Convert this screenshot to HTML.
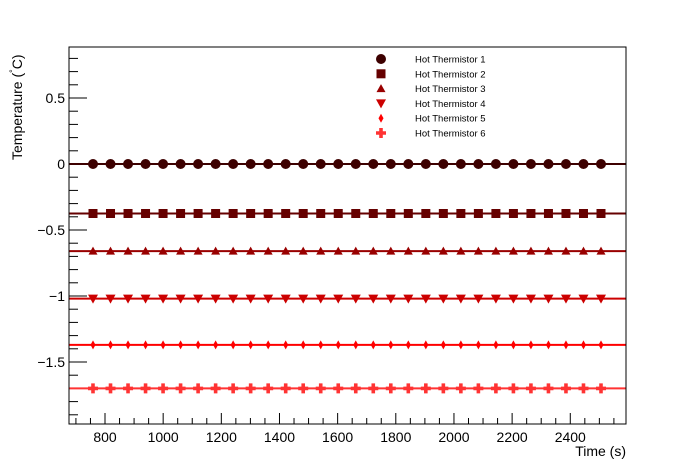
<!DOCTYPE html>
<html><head><meta charset="utf-8"><style>
body{margin:0;background:#fff;}
svg{display:block;font-family:"Liberation Sans",sans-serif;}
</style></head><body>
<svg id="s" width="696" height="472" xmlns="http://www.w3.org/2000/svg">
<rect width="696" height="472" fill="#fff"/>
<g id="g"></g>
<rect x="69" y="47" width="557" height="377" fill="none" stroke="#000" stroke-width="1"/>
</svg>
<script>
const g=document.getElementById('g');let h='';
const X=t=>105+(t-800)*0.2908, Y=v=>164-v*132;
for(let t=700;t<=2550;t+=50){const x=X(t);if(x<69||x>626)continue;const L=t%200==0?11:6;h+=`<line x1="${x}" y1="424" x2="${x}" y2="${424-L}" stroke="#000"/>`;
if(t%200==0)h+=`<text x="${x}" y="442" font-size="14" text-anchor="middle">${t}</text>`;}
for(let i=-19;i<=8;i++){const v=i/10;const y=Y(v);if(y<47||y>424)continue;const maj=i%5==0;h+=`<line x1="69" y1="${y}" x2="${69+(maj?18:9)}" y2="${y}" stroke="#000"/>`;
if(maj)h+=`<text x="65" y="${y+5}" font-size="14" text-anchor="end">${v==0?'0':(v<0?'\u2212'+(-v):v)}</text>`;}
h+=`<text x="626" y="456" font-size="14" text-anchor="end">Time (s)</text>`;
h+=`<text transform="translate(22,160) rotate(-90)" font-size="14">Temperature (<tspan font-size="9" dy="-6">°</tspan><tspan dy="6">C)</tspan></text>`;
const cols=['#3d0000','#660000','#990000','#cc0000','#ff0000','#ff3333'];
const lv=[0,-0.375,-0.66,-1.02,-1.37,-1.70];
function mk(k,x,y,c){
 if(k==0)return `<circle cx="${x}" cy="${y}" r="5" fill="${c}"/>`;
 if(k==1)return `<rect x="${x-4.5}" y="${y-4.5}" width="9" height="9" fill="${c}"/>`;
 if(k==2)return `<polygon points="${x},${y-4.5} ${x+4.5},${y+3.5} ${x-4.5},${y+3.5}" fill="${c}"/>`;
 if(k==3)return `<polygon points="${x-5},${y-4} ${x+5},${y-4} ${x},${y+5}" fill="${c}"/>`;
 if(k==4)return `<polygon points="${x},${y-4.5} ${x+2.5},${y} ${x},${y+4.5} ${x-2.5},${y}" fill="${c}"/>`;
 return `<path d="M${x-1.8} ${y-5}h3.6v3.2h3.2v3.6h-3.2v3.2h-3.6v-3.2h-3.2v-3.6h3.2z" fill="${c}"/>`;
}
for(let k=0;k<6;k++){const y=Y(lv[k]);
 h+=`<line x1="69" y1="${y}" x2="626" y2="${y}" stroke="${cols[k]}" stroke-width="2"/>`;
 for(let i=0;i<30;i++){const x=93+i*(508/29);h+=mk(k,x,y,cols[k]);}
 const ly=59+k*14.8;h+=mk(k,381,ly,cols[k]);
 h+=`<text x="415" y="${ly+3.5}" font-size="9.5">Hot Thermistor ${k+1}</text>`;}
g.innerHTML=h;
</script>
</body></html>
